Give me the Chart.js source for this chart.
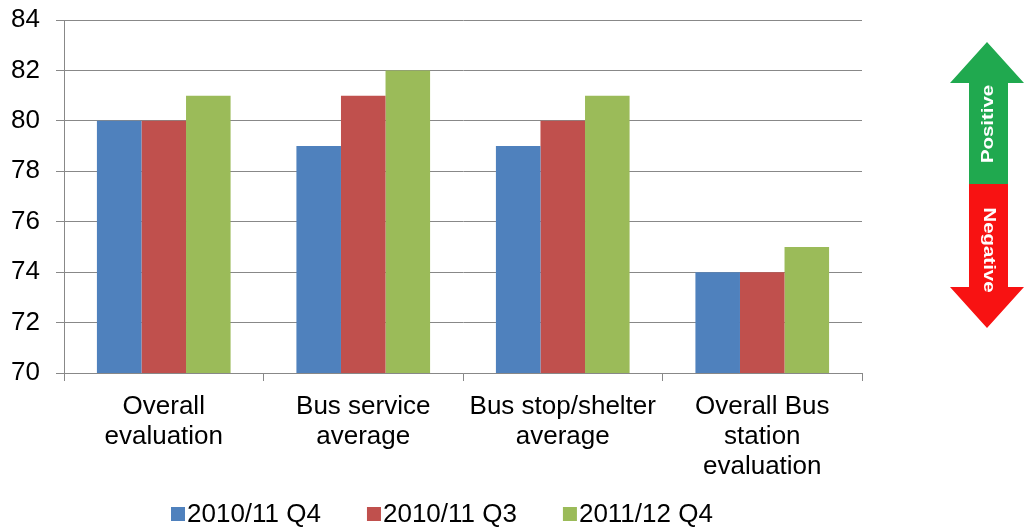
<!DOCTYPE html>
<html>
<head>
<meta charset="utf-8">
<script src="https://cdn.jsdelivr.net/npm/chart.js@4/dist/chart.umd.min.js"></script>
<style>
  html, body { margin: 0; padding: 0; background: #fff; }
  #wrap { width: 1024px; height: 529px; position: relative; }
</style>
</head>
<body>
<div id="wrap"><canvas id="myChart" width="1024" height="529"></canvas></div>
<script>
const categories = [
    ['Overall', 'evaluation'],
    ['Bus service', 'average'],
    ['Bus stop/shelter', 'average'],
    ['Overall Bus', 'station', 'evaluation']
];
const seriesNames = ['2010/11 Q4', '2010/11 Q3', '2011/12 Q4'];
const q4Prev = [80, 79, 79, 74];
const q3Prev = [80, 81, 80, 74];
const q4Curr = [81, 82, 81, 75];
const yTicks = [70, 72, 74, 76, 78, 80, 82, 84];

const font = 'Liberation Sans, Arial, sans-serif';
const fontSize = 26;

// up/down arrow on the right: green half positive, red half negative
const arrowPlugin = {
    id: 'arrow',
    afterDraw(chart) {
        const c = chart.ctx;
        const cx = 987, l = 969, r = 1008, hl = 950, hr = 1024;
        const top = 42, topBase = 83, mid = 184, botBase = 287, bot = 328;
        c.save();
        c.fillStyle = '#20a94f';
        c.beginPath();
        c.moveTo(cx, top);
        c.lineTo(hr, topBase);
        c.lineTo(r, topBase);
        c.lineTo(r, mid);
        c.lineTo(l, mid);
        c.lineTo(l, topBase);
        c.lineTo(hl, topBase);
        c.closePath();
        c.fill();
        c.fillStyle = '#f81212';
        c.beginPath();
        c.moveTo(l, mid);
        c.lineTo(r, mid);
        c.lineTo(r, botBase);
        c.lineTo(hr, botBase);
        c.lineTo(cx, bot);
        c.lineTo(hl, botBase);
        c.lineTo(l, botBase);
        c.closePath();
        c.fill();
        c.restore();

        const label = (text, y, angle) => {
            c.save();
            c.fillStyle = '#fff';
            c.font = 'bold 17px ' + font;
            c.textAlign = 'center';
            c.textBaseline = 'middle';
            c.translate((l + r) / 2, y);
            c.rotate(angle);
            c.scale(1.2, 1);
            c.fillText(text, 0, 0);
            c.restore();
        };
        label('Positive', 124, -Math.PI / 2);
        label('Negative', 250, Math.PI / 2);
    }
};

// legend row under the axis labels
const legendPlugin = {
    id: 'bottomLegend',
    afterDraw(chart) {
        const c = chart.ctx;
        let x = 171;
        const y = 514, box = 14;
        c.save();
        c.font = fontSize + 'px ' + font;
        c.textBaseline = 'middle';
        chart.data.datasets.forEach(ds => {
            c.fillStyle = ds.backgroundColor;
            c.fillRect(x, y - box / 2, box, box);
            x += box + 2;
            c.fillStyle = '#000';
            c.fillText(ds.label, x, y + 1);
            x += c.measureText(ds.label).width + 46;
        });
        c.restore();
    }
};

const ctx = document.getElementById('myChart');
new Chart(ctx, {
    type: 'bar',
    data: {
        labels: categories,
        datasets: [
            { label: seriesNames[0], data: q4Prev, backgroundColor: '#4f81bd' },
            { label: seriesNames[1], data: q3Prev, backgroundColor: '#c0504d' },
            { label: seriesNames[2], data: q4Curr, backgroundColor: '#9bbb59' }
        ]
    },
    options: {
        responsive: false,
        animation: false,
        categoryPercentage: 0.67,
        barPercentage: 1,
        layout: { padding: { top: 0, right: 162, left: 0, bottom: 0 } },
        scales: {
            y: {
                min: yTicks[0],
                max: yTicks[yTicks.length - 1],
                afterBuildTicks(scale) {
                    scale.ticks = yTicks.map(v => ({ value: v }));
                },
                afterFit(scale) { scale.width = 64; scale.paddingTop = 20; },
                border: { color: '#888', width: 1 },
                grid: { color: '#888', lineWidth: 1, tickLength: 8 },
                ticks: { color: '#000', font: { family: font, size: fontSize, lineHeight: 1 }, padding: 16 }
            },
            x: {
                afterFit(scale) { scale.height = 156; },
                border: { color: '#888', width: 1 },
                grid: { drawOnChartArea: false, color: '#888', tickLength: 8, offset: true },
                ticks: { color: '#000', font: { family: font, size: fontSize, lineHeight: 30 / 26 }, padding: 11, maxRotation: 0 }
            }
        },
        plugins: {
            legend: { display: false },
            tooltip: { enabled: false }
        }
    },
    plugins: [arrowPlugin, legendPlugin]
});
</script>
</body>
</html>
